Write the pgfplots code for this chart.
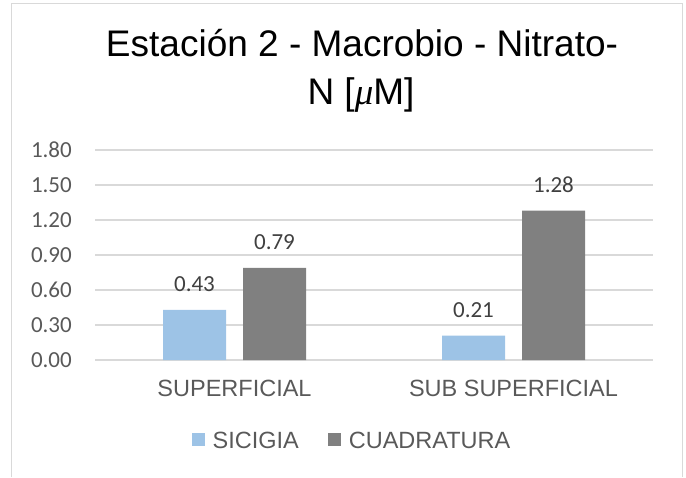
\documentclass[border=0pt]{standalone}
\usepackage{pgfplots}
\pgfplotsset{compat=1.18}
\usepackage{fontspec}
\setmainfont{Liberation Sans}
\newfontfamily\calibri{Carlito}
\newfontfamily\serifit{Liberation Serif}
\definecolor{sicigia}{HTML}{9DC3E6}
\definecolor{cuad}{HTML}{808080}
\definecolor{txtgray}{HTML}{595959}
\definecolor{lblgray}{HTML}{404040}
\definecolor{gridgray}{HTML}{D9D9D9}
\begin{document}
\begin{tikzpicture}[x=1pt,y=1pt]
\useasboundingbox (0,0) rectangle (686,477);
\draw[gridgray, line width=1.3pt] (11.5,0) -- (11.5,473.5) -- (682.5,473.5) -- (682.5,0);
\node[font=\fontsize{37}{46}\selectfont, text=black, anchor=base] at (362,420) {Estación 2 - Macrobio - Nitrato-};
\node[font=\fontsize{37}{46}\selectfont, text=black, anchor=base] at (361,372) {N [{\serifit\itshape μ}M]};
\begin{axis}[
  at={(95pt,117pt)}, anchor=south west,
  scale only axis, width=558pt, height=210pt,
  ybar=17pt, bar width=63pt,
  xmin=-0.5, xmax=1.5, ymin=0, ymax=1.8,
  xtick={0,1}, xticklabels={SUPERFICIAL,SUB SUPERFICIAL},
  ytick={0,0.3,0.6,0.9,1.2,1.5,1.8},
  yticklabel={\pgfmathprintnumber[fixed,fixed zerofill,precision=2]{\tick}},
  /pgf/number format/assume math mode=true,
  major tick length=0pt,
  axis y line*=left, axis x line*=bottom,
  y axis line style={draw=none},
  x axis line style={gridgray, line width=1.3pt},
  ymajorgrids, grid style={gridgray, line width=1.3pt},
  yticklabel style={font=\calibri\fontsize{23}{27}\selectfont, text=txtgray, inner sep=0pt, anchor=east, xshift=-23pt},
  xticklabel style={font=\fontsize{23.5}{28}\selectfont, text=txtgray, inner sep=0pt, anchor=north, yshift=-20pt},
  nodes near coords={\pgfmathprintnumber[fixed,fixed zerofill,precision=2]{\pgfplotspointmeta}},
  nodes near coords style={font=\calibri\fontsize{23}{27}\selectfont, text=lblgray, anchor=base, yshift=18pt, inner sep=0pt, /pgf/number format/assume math mode=true},
  legend style={at={(axis description cs:0.4606,-0.386)}, anchor=center, draw=none, fill=none,
     legend columns=2, font=\fontsize{23.5}{28}\selectfont, text=txtgray,
     /tikz/every even column/.append style={column sep=27pt},
     inner sep=0pt, outer sep=0pt},
  legend image code/.code={\fill[#1, draw=none] (0pt,-5pt) rectangle (13pt,8pt); \path (19pt,0pt);},
  legend cell align=left,
  clip=false,
]
\addplot[fill=sicigia, draw=none] coordinates {(0,0.43) (1,0.21)};
\addplot[fill=cuad, draw=none] coordinates {(0,0.79) (1,1.28)};
\legend{SICIGIA,CUADRATURA}
\end{axis}
\end{tikzpicture}
\end{document}
